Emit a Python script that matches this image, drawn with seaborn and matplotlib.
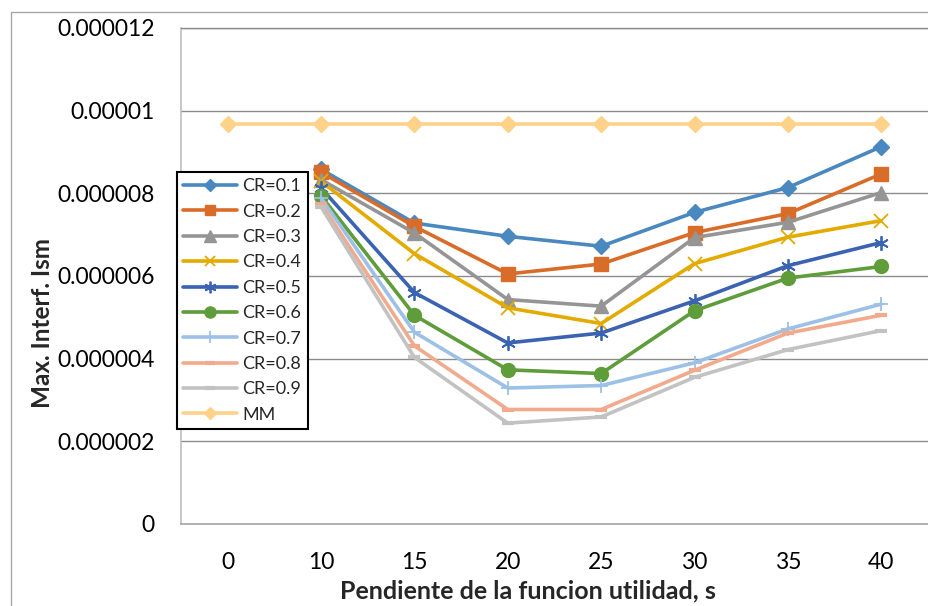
import numpy as np
import matplotlib
matplotlib.use("Agg")
import matplotlib.pyplot as plt
import seaborn as sns
from matplotlib.patches import Rectangle

# Slope values of the utility function (categorical x axis)
pendiente = ["0", "10", "15", "20", "25", "30", "35", "40"]

# Maximum interference Ism per competitive ratio
cr_01 = [np.nan, 8.58e-6, 7.28e-6, 6.96e-6, 6.72e-6, 7.54e-6, 8.14e-6, 9.13e-6]
cr_02 = [np.nan, 8.51e-6, 7.20e-6, 6.05e-6, 6.29e-6, 7.05e-6, 7.51e-6, 8.47e-6]
cr_03 = [np.nan, 8.33e-6, 7.04e-6, 5.43e-6, 5.27e-6, 6.93e-6, 7.30e-6, 8.02e-6]
cr_04 = [np.nan, 8.29e-6, 6.54e-6, 5.23e-6, 4.85e-6, 6.30e-6, 6.94e-6, 7.34e-6]
cr_05 = [np.nan, 8.13e-6, 5.60e-6, 4.38e-6, 4.62e-6, 5.40e-6, 6.25e-6, 6.81e-6]
cr_06 = [np.nan, 7.94e-6, 5.05e-6, 3.73e-6, 3.64e-6, 5.16e-6, 5.95e-6, 6.23e-6]
cr_07 = [np.nan, 7.89e-6, 4.64e-6, 3.29e-6, 3.35e-6, 3.90e-6, 4.72e-6, 5.32e-6]
cr_08 = [np.nan, 7.75e-6, 4.31e-6, 2.77e-6, 2.77e-6, 3.72e-6, 4.62e-6, 5.05e-6]
cr_09 = [np.nan, 7.67e-6, 4.03e-6, 2.44e-6, 2.59e-6, 3.55e-6, 4.22e-6, 4.68e-6]
mm = [9.68e-6, 9.68e-6, 9.68e-6, 9.68e-6, 9.68e-6, 9.68e-6, 9.68e-6, 9.68e-6]

series_names = ["CR=0.1", "CR=0.2", "CR=0.3", "CR=0.4", "CR=0.5",
                "CR=0.6", "CR=0.7", "CR=0.8", "CR=0.9", "MM"]
series_values = [cr_01, cr_02, cr_03, cr_04, cr_05, cr_06, cr_07, cr_08, cr_09, mm]

y_ticks = [0, 2e-6, 4e-6, 6e-6, 8e-6, 10e-6, 12e-6]
y_tick_labels = ["0", "0.000002", "0.000004", "0.000006", "0.000008", "0.00001", "0.000012"]

# colour, marker, marker size, marker edge width
styles = {
    "CR=0.1": ("#4A88C0", "D", 8.0, 1.0),
    "CR=0.2": ("#D96C28", "s", 9.5, 1.0),
    "CR=0.3": ("#959595", "^", 10.0, 1.0),
    "CR=0.4": ("#E3AA00", "x", 9.5, 1.3),
    "CR=0.5": ("#3A63B2", (6, 2, 0), 10.5, 1.3),
    "CR=0.6": ("#5F9C3A", "o", 10.0, 1.0),
    "CR=0.7": ("#9CC0E6", "+", 10.5, 1.3),
    "CR=0.8": ("#F2AA8C", "_", 9.0, 3.0),
    "CR=0.9": ("#C2C2C2", "_", 9.0, 3.0),
    "MM":     ("#FFD28A", "D", 8.0, 1.0),
}

sns.set_theme(style="white")
plt.rcParams["font.family"] = ["Lato", "DejaVu Sans"]

fig = plt.figure(figsize=(9.29, 6.06), dpi=100)
ax = fig.add_axes([181 / 929, 82 / 606, 747 / 929, 496 / 606])

positions = np.arange(len(pendiente))
for name, vals in zip(series_names, series_values):
    color, marker, ms, mew = styles[name]
    sns.lineplot(x=positions, y=vals, ax=ax, color=color, linewidth=2.6,
                 marker=marker, markersize=ms, markeredgecolor=color,
                 markerfacecolor=color, markeredgewidth=mew,
                 label=name, errorbar=None)

ax.set_xlim(-0.5, len(pendiente) - 0.5)
ax.set_ylim(0, 12e-6)
ax.set_xticks(positions, labels=pendiente)
ax.set_yticks(y_ticks, labels=y_tick_labels)
ax.tick_params(axis="both", length=0, labelsize=16.5, colors="black")
ax.tick_params(axis="y", pad=19)
ax.tick_params(axis="x", pad=20)

ax.yaxis.grid(True, color="#8C8C8C", linewidth=1.0)
ax.xaxis.grid(False)
ax.set_axisbelow(True)
ax.spines["right"].set_visible(False)
ax.spines["top"].set_color("#8C8C8C")
ax.spines["top"].set_linewidth(1.0)
ax.spines["left"].set_color("#BFBFBF")
ax.spines["left"].set_linewidth(1.2)
ax.spines["bottom"].set_color("#A6A6A6")
ax.spines["bottom"].set_linewidth(1.2)

ax.set_xlabel("Pendiente de la funcion utilidad, s", fontsize=18, fontweight="bold")
ax.xaxis.set_label_coords((528 - 181) / 747, (524 - 591) / 496)
ax.xaxis.label.set_va("center")
ax.set_ylabel("Max. Interf. Ism", fontsize=17.5, fontweight="bold")
ax.yaxis.set_label_coords((43 - 181) / 747, (524 - 323) / 496)
ax.yaxis.label.set_va("center")

leg = ax.legend(loc="upper left", bbox_to_anchor=(-0.0058, 0.7097),
                frameon=True, fancybox=False, edgecolor="black", framealpha=1,
                fontsize=13, labelspacing=0.52, handlelength=3.0,
                handletextpad=0.3, borderpad=0.35, borderaxespad=0,
                markerscale=0.8)
leg.get_frame().set_linewidth(1.5)

# outer chart border
fig.add_artist(Rectangle((11 / 929, -0.1), 2, (606 - 11.5) / 606 + 0.1,
                         transform=fig.transFigure, fill=False,
                         edgecolor="#A6A6A6", linewidth=1.0))

fig.savefig("out.png", dpi=100)
